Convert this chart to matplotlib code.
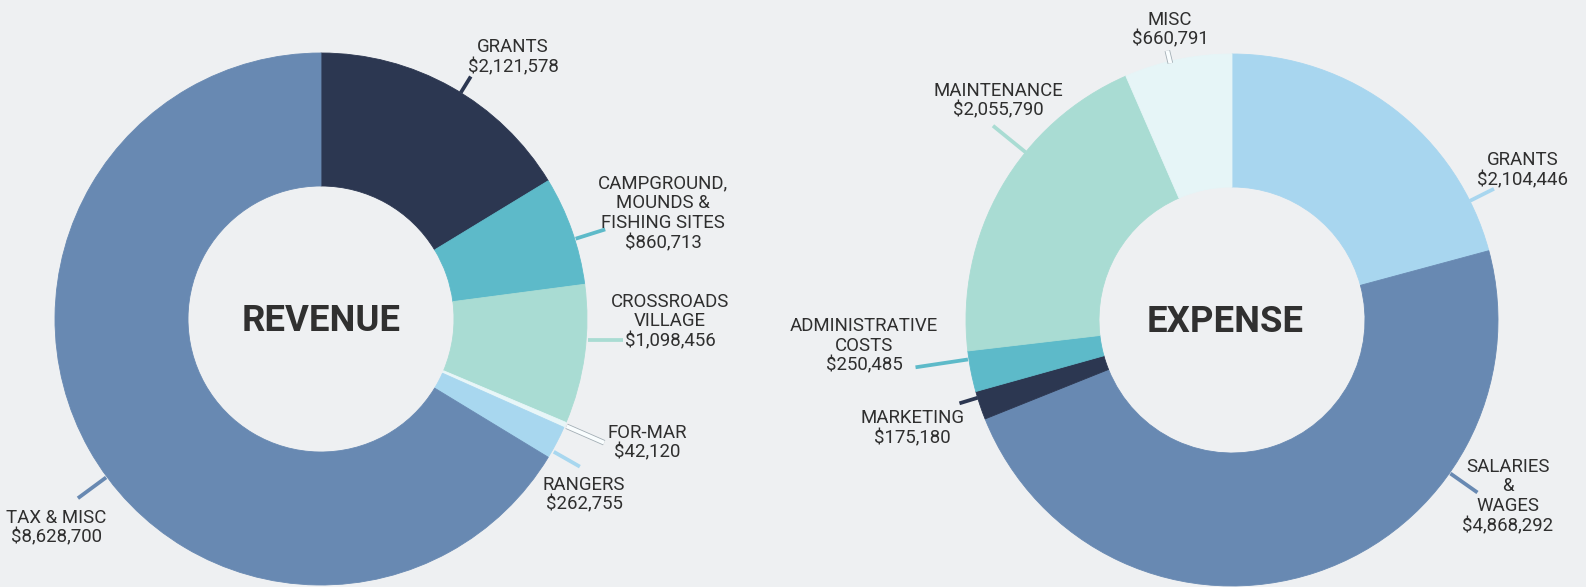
import numpy as np
import matplotlib
matplotlib.use("Agg")
import matplotlib.pyplot as plt
import matplotlib.patheffects as pe

# ---------------- data ----------------
rev_labels = ["GRANTS", "CAMPGROUND,\nMOUNDS &\nFISHING SITES", "CROSSROADS\nVILLAGE",
              "FOR-MAR", "RANGERS", "TAX & MISC"]
rev_values = [2121578, 860713, 1098456, 42120, 262755, 8628700]
rev_colors = ["#2c3751", "#5dbac9", "#a9dcd3", "#e8f6f8", "#a8d7ef", "#6889b2"]

exp_labels = ["GRANTS", "SALARIES\n&\nWAGES", "MARKETING", "ADMINISTRATIVE\nCOSTS",
              "MAINTENANCE", "MISC"]
exp_values = [2104446, 4868292, 175180, 250485, 2055790, 660791]
exp_colors = ["#a8d6ef", "#6889b2", "#2c3751", "#5dbac9", "#a9dcd3", "#e6f5f7"]

# ---------------- layout (pixels, y measured from top) ----------------
W, H = 1586, 587
R_OUT, R_W = 266, 133
rev_center = (321, 319)
exp_center = (1232, 320)

# per label: text center x, first line center y, leader angle (deg clockwise from top),
# leader start radius, end radius, horizontal flag
rev_layout = [
    (513, 45.7, 31.7, 266, 285, False),
    (663, 182, 72.5, 267, 298, False),
    (670, 300, 94.5, 268, 302, True),
    (647, 431, 113.6, 268, 309, False),
    (584, 483, 119.7, 268, 298, False),
    (56, 516, 233.6, 267, 302, False),
]
exp_layout = [
    (1523, 158.5, 63.4, 266, 293, False),
    (1508, 465, 125.1, 267, 300, False),
    (912, 416.5, 253.0, 266, 285, False),
    (864, 324.5, 261.5, 267, 320, False),
    (998.5, 89, 309.1, 266, 308, False),
    (1170, 18.3, 346.5, 264, 277, False),
]

BG = "#eef0f2"
TXT = "#2f2f2f"
LINE_STEP = 19.8
FS = 13.4          # points
BASE_OFF = 6.6     # px from cap-center to baseline

fig = plt.figure(figsize=(W / 100, H / 100), dpi=100, facecolor=BG)
ax = fig.add_axes([0, 0, 1, 1])
ax.set_facecolor(BG)


def Y(y):
    return H - y


def draw_donut(values, colors, labels, layout, center, title, title_x):
    cx, cy = center[0], Y(center[1])
    wedges, _ = ax.pie(values, colors=colors, startangle=90, counterclock=False,
                       radius=R_OUT, center=(cx, cy),
                       wedgeprops=dict(width=R_W, linewidth=0.6, edgecolor=None))
    for w, c in zip(wedges, colors):
        w.set_edgecolor(c)
    for lab, col, (tx, ty, ang, r0, r1, horiz) in zip(labels, colors, layout):
        a = np.deg2rad(ang)
        x0, y0 = cx + r0 * np.sin(a), cy + r0 * np.cos(a)
        if horiz:
            x1, y1 = cx + r1, y0
        else:
            x1, y1 = cx + r1 * np.sin(a), cy + r1 * np.cos(a)
        light = col.lower() in ("#e8f6f8", "#e6f5f7")
        if light:
            ax.plot([x0, x1], [y0, y1], color="#f9fdfe", lw=2.8, solid_capstyle="butt",
                    path_effects=[pe.Stroke(linewidth=4.0, foreground="#a3aeb5"), pe.Normal()],
                    zorder=3)
        else:
            ax.plot([x0, x1], [y0, y1], color=col, lw=2.7, solid_capstyle="butt", zorder=3)
        lines = lab.split("\n")
        val = "${:,}".format(dict(zip(labels, values))[lab])
        lines.append(val)
        for i, ln in enumerate(lines):
            ax.text(tx, Y(ty + i * LINE_STEP + BASE_OFF), ln, ha="center", va="baseline",
                    fontsize=FS, family=["Roboto", "DejaVu Sans"], color=TXT)
    ax.text(title_x, Y(center[1] - 1 + 13), title, ha="center", va="baseline",
            fontsize=26.3, fontweight="bold", family=["Roboto", "DejaVu Sans"], color="#303030")


draw_donut(rev_values, rev_colors, rev_labels, rev_layout, rev_center, "REVENUE", 321)
draw_donut(exp_values, exp_colors, exp_labels, exp_layout, exp_center, "EXPENSE", 1225)

ax.set_xlim(0, W)
ax.set_ylim(0, H)
ax.set_aspect("auto")
ax.axis("off")
fig.savefig("out.png", dpi=100, facecolor=BG)
